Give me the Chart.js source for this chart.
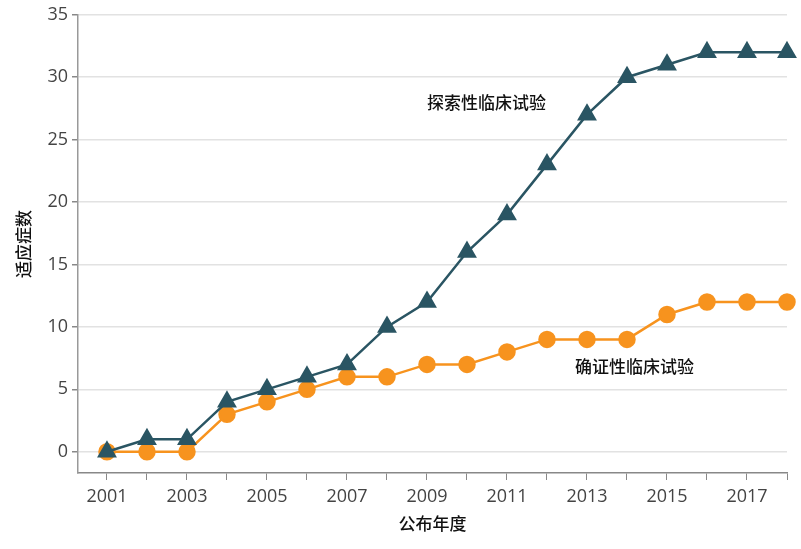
<!DOCTYPE html>
<html>
<head>
<meta charset="utf-8">
<script src="https://cdn.jsdelivr.net/npm/chart.js@4.4.1/dist/chart.umd.min.js"></script>
<style>
  html, body { margin: 0; padding: 0; background: #fff; }
  #wrap { width: 801px; height: 549px; }
</style>
</head>
<body>
<div id="wrap"><canvas id="valuesChart" width="801" height="549"></canvas></div>
<script>
const years = [2001, 2002, 2003, 2004, 2005, 2006, 2007, 2008, 2009, 2010, 2011, 2012, 2013, 2014, 2015, 2016, 2017, 2018]
const exploratory = [0, 1, 1, 4, 5, 6, 7, 10, 12, 16, 19, 23, 27, 30, 31, 32, 32, 32]
const confirmatory = [0, 0, 0, 3, 4, 5, 6, 6, 7, 7, 8, 9, 9, 9, 11, 12, 12, 12]
const yTicks = [0, 5, 10, 15, 20, 25, 30, 35]
const seriesNames = ['探索性临床试验', '确证性临床试验']

const dark = '#2a5563'
const orange = '#f7931e'
const fontTick = { family: '"Open Sans", "DejaVu Sans", sans-serif', size: 18 }
const fontCJK = { family: '"Noto Sans CJK SC", sans-serif', size: 17, weight: '500' }

//Series labels written next to the lines
const seriesLabels = {
    id: 'seriesLabels',
    afterDatasetsDraw(chart) {
        const { ctx, scales: { x, y } } = chart
        ctx.save()
        ctx.font = '500 17px "Noto Sans CJK SC", sans-serif'
        ctx.fillStyle = '#111'
        ctx.textBaseline = 'middle'
        ctx.fillText(seriesNames[0], x.getPixelForValue(2009.0), y.getPixelForValue(28.0))
        ctx.fillText(seriesNames[1], x.getPixelForValue(2012.7), y.getPixelForValue(6.8))
        ctx.restore()
    }
}

new Chart(document.getElementById('valuesChart'), {
    type: 'line',
    data: {
        datasets: [{
            label: seriesNames[0],
            data: years.map((yr, i) => ({ x: yr, y: exploratory[i] })),
            borderColor: dark,
            backgroundColor: dark,
            borderWidth: 2.5,
            pointStyle: 'triangle',
            pointRadius: 9,
            pointHoverRadius: 9,
            clip: false
        }, {
            label: seriesNames[1],
            data: years.map((yr, i) => ({ x: yr, y: confirmatory[i] })),
            borderColor: orange,
            backgroundColor: orange,
            borderWidth: 2.5,
            pointStyle: 'circle',
            pointRadius: 7.5,
            pointHoverRadius: 7.5,
            clip: false
        }]
    },
    options: {
        responsive: false,
        animation: false,
        layout: { padding: { top: 13, right: 14, left: 9, bottom: 15 } },
        plugins: { legend: { display: false }, tooltip: { enabled: false } },
        scales: {
            x: {
                type: 'linear',
                min: 2000.275,
                max: 2018,
                afterBuildTicks: scale => { scale.ticks = years.map(v => ({ value: v })) },
                ticks: {
                    autoSkip: false,
                    maxRotation: 0,
                    color: '#444',
                    font: fontTick,
                    padding: 6,
                    callback: v => (v % 2 === 1 ? String(v) : '')
                },
                grid: { drawOnChartArea: false, drawTicks: true, tickLength: 7, color: '#888' },
                border: { color: '#888', width: 1.5 },
                title: { display: true, text: '公布年度', color: '#111', font: fontCJK, padding: { top: 0, bottom: 0 } }
            },
            y: {
                min: -1.7,
                max: 35,
                afterBuildTicks: scale => { scale.ticks = yTicks.map(v => ({ value: v })) },
                ticks: { color: '#444', font: fontTick, padding: 4 },
                grid: { color: '#e2e2e2', lineWidth: 1.5, tickColor: '#888', tickLength: 6 },
                border: { color: '#999', width: 1.5 },
                title: { display: true, text: '适应症数', color: '#111', font: fontCJK, padding: { bottom: 10 } }
            }
        }
    },
    plugins: [seriesLabels]
})
</script>
</body>
</html>
